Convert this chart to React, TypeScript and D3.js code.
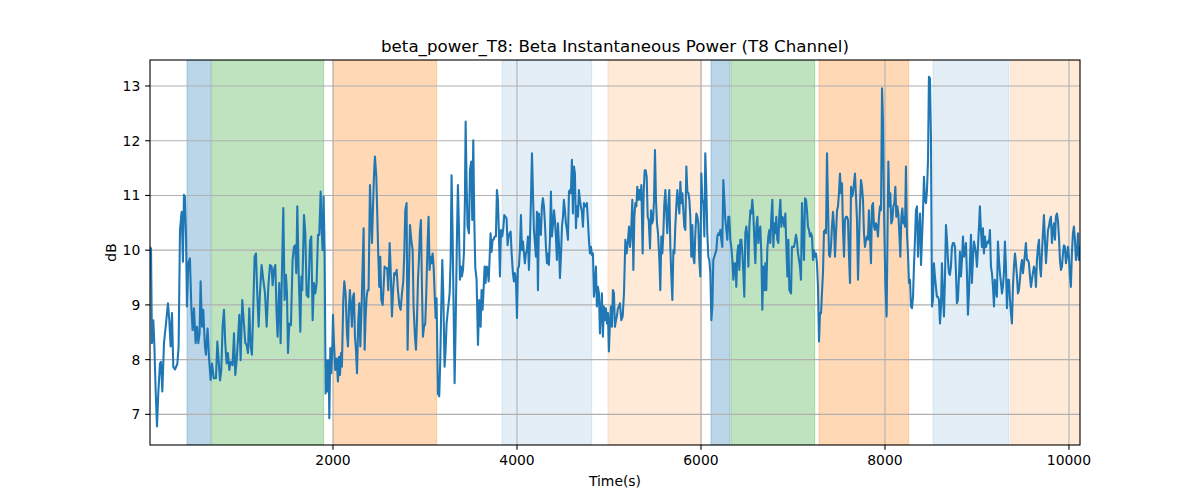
import React from 'react';
import * as d3 from 'd3';

// [time (s), beta power (dB)]
const powerSamples: [number, number][] = [
  [11,10.05],[22,10.03],[32,8.30],[47,8.72],[58,8.30],[72,7.45],[87,6.78],[101,7.38],[119,7.93],[130,7.96],
  [145,7.42],[163,8.30],[185,8.66],[206,9.03],[221,8.72],[235,8.24],[250,8.85],[264,7.87],[282,7.82],[308,7.92],
  [322,8.24],[337,10.37],[355,10.70],[369,9.79],[380,11.01],[391,10.98],[402,10.31],[413,8.97],[427,9.76],[445,9.85],
  [460,8.97],[474,8.54],[489,8.94],[507,8.30],[522,8.60],[536,8.30],[550,8.48],[561,9.43],[576,8.60],[590,8.91],
  [608,8.24],[619,8.09],[637,8.57],[652,8.05],[670,7.63],[685,7.93],[703,7.66],[728,7.66],[743,8.33],[757,7.99],
  [772,7.62],[786,7.81],[800,8.60],[815,8.91],[829,8.30],[844,7.93],[858,8.12],[873,7.81],[887,7.96],[909,7.90],
  [924,8.48],[938,7.72],[953,7.99],[967,8.36],[982,8.82],[996,7.99],[1014,9.09],[1032,8.66],[1047,8.30],[1061,8.27],
  [1076,8.12],[1090,8.94],[1105,8.24],[1119,8.09],[1134,8.97],[1148,9.88],[1163,9.94],[1177,9.21],[1192,8.60],[1206,9.21],
  [1224,9.73],[1242,9.46],[1261,9.21],[1279,8.60],[1297,9.33],[1315,9.73],[1333,9.70],[1344,9.36],[1358,9.64],[1373,9.73],
  [1387,8.85],[1398,8.42],[1416,9.40],[1431,8.30],[1445,9.58],[1460,10.77],[1474,9.09],[1489,9.55],[1500,9.21],[1511,8.12],
  [1525,8.66],[1543,8.63],[1561,9.82],[1576,10.06],[1590,10.09],[1601,9.58],[1612,10.80],[1627,9.58],[1645,8.51],[1656,9.52],
  [1666,9.27],[1685,10.64],[1699,10.31],[1714,9.18],[1732,9.14],[1750,10.16],
  [1764,10.25],[1779,8.72],[1793,9.40],[1808,9.21],[1822,9.40],[1837,10.28],[1851,10.28],[1866,11.07],[1876,10.43],[1887,10.00],
  [1898,10.98],[1909,10.00],[1920,7.38],[1931,7.99],[1942,7.42],[1953,7.99],[1960,6.93],[1971,8.21],[1982,7.75],[1992,8.18],
  [2000,8.82],[2011,8.30],[2025,7.81],[2040,8.02],[2054,7.60],[2065,8.05],[2076,7.72],[2087,8.12],[2097,7.87],[2112,9.09],
  [2123,9.43],[2137,9.21],[2152,8.48],[2163,8.24],[2174,8.97],[2184,9.27],[2195,8.97],[2206,8.60],[2217,9.15],[2228,9.21],
  [2239,8.42],[2250,8.18],[2261,7.75],[2275,8.72],[2286,9.03],[2297,8.24],[2311,8.97],[2322,9.70],[2333,10.40],[2344,8.18],
  [2355,8.79],[2366,9.15],[2376,9.27],[2387,9.27],[2402,11.19],[2413,10.61],[2424,10.13],[2434,10.73],[2445,11.34],[2456,11.71],
  [2471,11.34],[2482,10.61],[2492,9.94],[2503,9.33],[2514,9.88],[2525,9.09],[2540,9.00],[2550,9.33],[2561,9.70],[2576,9.67],
  [2590,9.67],[2601,9.27],[2616,10.13],[2626,9.70],[2641,8.79],[2652,9.21],[2666,9.58],[2681,9.55],[2692,9.64],[2706,9.27],
  [2721,9.00],[2735,8.91],[2750,9.21],[2764,9.43],[2775,9.94],[2786,10.73],[2800,10.86],[2811,8.18],[2822,9.21],[2837,10.46],
  [2851,10.19],[2866,10.00],[2876,8.97],[2891,8.42],[2902,8.18],[2913,8.72],[2924,9.46],[2934,9.82],[2945,10.34],[2956,10.55],
  [2967,9.33],[2978,8.42],[2989,8.60],[3003,8.66],[3014,9.21],[3029,10.16],[3039,10.61],[3050,9.64],[3061,9.88],[3072,9.76],
  [3083,9.94],[3094,9.70],[3105,9.21],[3116,8.76],[3126,9.12],[3141,7.38],[3155,7.33],[3166,7.99],[3177,8.97],[3188,9.82],
  [3199,9.21],[3213,7.87],[3224,8.18],[3235,8.66],[3246,8.85],[3257,9.03],[3268,9.21],[3279,9.82],[3289,11.37],[3300,10.31],
  [3315,8.48],[3322,7.57],[3333,8.60],[3347,10.19],[3358,11.19],[3369,10.43],[3380,9.46],[3391,9.70],[3402,9.52],[3413,9.64],
  [3424,9.97],[3434,10.92],[3442,12.35],[3453,11.16],[3463,10.43],[3478,10.31],
  [3489,11.46],[3503,11.62],[3514,10.55],[3525,12.01],[3536,10.55],[3547,9.67],[3561,9.46],[3576,8.27],[3590,9.09],[3605,8.60],
  [3615,9.27],[3626,8.91],[3637,9.27],[3648,9.70],[3659,9.40],[3670,9.70],[3681,9.67],[3692,9.43],[3702,9.82],[3713,10.31],
  [3724,9.97],[3735,10.19],[3746,10.19],[3757,10.25],[3771,10.25],[3782,11.10],[3793,10.92],[3804,10.28],[3815,9.52],[3826,10.37],
  [3840,10.25],[3851,10.40],[3862,10.64],[3876,10.61],[3887,10.58],[3898,10.09],[3909,10.25],[3920,10.31],[3931,10.34],[3942,9.94],
  [3956,9.58],[3967,9.43],[3978,9.58],[3989,9.46],[4000,8.76],[4010,9.67],[4021,9.70],[4032,10.00],[4043,10.64],[4054,10.00],
  [4065,10.16],[4076,9.94],[4086,9.76],[4097,9.94],[4108,10.00],[4119,10.25],[4130,9.64],[4141,10.19],[4152,10.92],[4163,11.77],
  [4173,11.10],[4184,10.37],[4195,10.13],[4206,9.88],[4217,10.70],[4228,9.27],[4239,10.67],[4250,10.37],[4260,10.28],[4271,10.80],
  [4282,10.95],[4293,10.80],[4304,10.49],[4315,10.06],[4326,9.76],[4336,9.94],[4347,9.73],[4358,10.19],[4369,11.07],[4380,10.25],
  [4391,10.46],[4402,10.73],[4413,10.55],[4423,10.25],[4434,9.82],[4445,10.49],[4456,10.13],[4467,9.49],[4478,9.88],[4489,10.43],
  [4500,10.61],[4510,10.92],[4521,10.73],[4532,10.49],[4543,10.37],[4554,10.19],[4565,11.07],[4576,11.10],[4586,11.04],[4597,11.65],
  [4608,10.67],[4619,11.53],[4630,11.40],[4641,10.40],[4652,10.80],[4663,10.61],[4673,11.10],[4684,10.92],[4695,10.80],[4706,10.70],
  [4717,10.43],[4728,10.86],[4739,10.80],[4749,10.80],[4760,10.86],[4771,10.55],[4782,10.19],[4793,9.94],[4804,10.06],[4815,9.91],
  [4826,9.94],[4836,9.15],[4847,9.33],[4858,9.70],[4869,8.97],[4880,9.33],[4891,9.21],[4902,8.48],[4913,8.91],[4923,9.21],
  [4934,8.42],[4945,8.97],[4956,8.72],[4967,8.94],[4978,8.66],[4989,8.85],[4999,8.15],[5010,8.66],[5021,8.97],[5032,8.60],
  [5043,9.27],[5054,9.21],[5065,8.60],[5076,8.72],[5086,8.79],[5097,8.94],[5108,8.97],[5119,9.03],
  [5134,8.72],[5149,8.79],[5163,9.21],[5178,10.19],[5192,9.94],[5207,10.19],[5218,10.43],[5229,10.06],[5240,10.31],[5254,10.92],
  [5265,9.64],[5276,10.61],[5287,10.86],[5298,10.80],[5308,11.16],[5319,10.92],[5330,11.10],[5341,10.92],[5352,11.19],[5366,9.94],
  [5377,11.04],[5388,11.46],[5399,11.46],[5410,11.34],[5421,10.61],[5432,10.55],[5446,10.03],[5457,10.73],[5468,10.49],[5479,10.55],
  [5490,10.92],[5500,11.83],[5511,10.92],[5522,10.49],[5533,10.31],[5548,9.82],[5558,9.27],[5569,10.25],[5580,9.94],[5591,10.31],
  [5602,10.86],[5613,11.10],[5624,10.67],[5634,10.31],[5645,10.80],[5656,11.10],[5667,10.06],[5678,9.52],[5689,9.09],[5700,10.00],
  [5711,9.94],[5721,10.43],[5732,10.80],[5743,11.10],[5754,10.86],[5765,10.67],[5776,11.25],[5787,10.86],[5798,11.04],[5808,10.73],
  [5819,10.43],[5830,10.37],[5841,11.53],[5852,11.07],[5863,11.04],[5874,10.92],[5884,10.61],[5895,9.88],[5906,10.46],[5917,9.88],
  [5928,9.76],[5939,10.31],[5950,10.67],[5961,10.61],[5971,10.49],[5982,9.82],[5993,9.52],[6004,11.40],[6015,10.92],[6026,10.86],
  [6037,10.25],[6047,11.77],[6058,11.16],[6069,10.31],[6080,9.88],[6091,9.82],[6102,9.58],[6113,8.72],[6124,8.97],[6134,9.82],
  [6145,9.88],[6156,9.94],[6167,10.00],[6178,10.25],[6189,10.31],[6200,10.28],[6211,10.37],[6221,10.19],[6232,10.06],[6243,11.28],
  [6254,10.92],[6265,10.55],[6276,10.37],[6287,10.19],[6297,10.61],[6308,10.61],[6319,10.19],[6330,10.06],[6341,9.82],[6352,9.46],
  [6363,9.76],[6374,9.76],[6384,9.33],[6395,9.94],[6406,10.09],[6417,9.64],[6428,10.19],[6439,10.19],[6450,9.94],[6461,9.58],
  [6471,9.15],[6482,10.31],[6493,10.43],[6504,10.25],[6515,9.70],[6526,10.43],[6537,10.73],[6547,10.67],[6558,10.92],[6569,10.67],
  [6580,10.19],[6591,9.76],[6602,10.43],[6613,10.61],[6624,10.13],[6634,10.31],[6645,10.43],[6656,9.94],[6667,8.91],[6678,9.70],
  [6689,9.27],[6700,9.76],[6710,9.27],[6721,10.00],[6732,10.25],[6743,10.37],[6754,10.13],[6765,10.61],[6776,10.92],[6787,10.06],
  [6797,10.49],[6808,10.31],[6819,10.61],[6830,10.19],[6841,10.13],[6852,10.67],[6863,10.92],[6874,10.43],[6884,10.61],[6895,10.58],
  [6906,10.43],[6917,10.67],[6928,10.06],[6939,9.52],[6950,10.19],[6961,9.27],
  [6979,9.21],[6989,10.06],[7000,10.06],[7011,10.06],[7022,10.16],[7033,10.28],[7044,10.16],[7055,9.94],[7066,9.82],[7076,9.70],
  [7087,9.46],[7098,10.86],[7109,10.31],[7120,9.82],[7131,10.95],[7142,10.92],[7152,10.73],[7163,10.43],[7174,10.37],[7185,10.25],
  [7196,10.31],[7207,10.25],[7218,9.82],[7229,10.00],[7239,9.88],[7250,9.94],[7261,9.76],[7272,9.33],[7283,8.33],[7294,8.85],
  [7305,8.85],[7315,9.21],[7326,9.58],[7337,10.34],[7348,10.37],[7359,10.31],[7370,11.77],[7381,10.80],[7392,9.91],[7402,9.88],
  [7413,10.06],[7424,10.43],[7435,10.70],[7446,10.43],[7457,9.88],[7468,10.31],[7479,10.73],[7489,10.80],[7500,11.04],[7511,11.40],
  [7522,11.04],[7533,11.22],[7544,10.37],[7555,9.88],[7565,10.55],[7576,10.61],[7587,10.61],[7598,10.55],[7609,9.88],[7620,9.40],
  [7631,11.16],[7642,10.98],[7652,11.04],[7663,11.22],[7674,11.40],[7685,10.98],[7696,10.55],[7707,9.46],[7718,10.19],[7728,10.80],
  [7739,11.28],[7750,11.16],[7761,10.92],[7772,10.31],[7783,10.06],[7794,10.19],[7805,10.25],[7815,10.19],[7826,10.73],[7837,10.25],
  [7848,9.76],[7859,10.80],[7870,10.86],[7881,10.43],[7892,10.37],[7902,10.49],[7913,10.43],[7924,10.25],[7935,10.61],[7946,10.80],
  [7957,10.73],[7968,12.96],[7978,12.38],[7989,10.80],[8004,9.40],[8018,8.79],[8029,10.49],[8037,11.62],[8047,10.80],[8058,11.04],
  [8069,10.49],[8080,10.55],[8091,10.80],[8102,10.86],[8113,11.16],[8123,10.61],[8134,10.80],[8145,10.67],[8156,10.31],[8167,9.88],
  [8178,10.61],[8189,10.76],[8200,10.49],[8210,10.61],[8218,10.43],[8228,11.53],[8239,10.31],[8250,9.94],[8261,9.40],[8272,9.46],
  [8283,8.97],[8294,8.94],[8305,9.15],[8315,9.70],[8326,10.19],[8337,10.73],[8348,10.80],[8359,9.88],[8370,10.37],[8381,10.67],
  [8392,9.73],[8402,10.19],[8413,10.67],[8424,11.34],[8435,10.92],[8446,10.86],[8457,11.10],[8468,11.65],[8478,13.17],[8489,13.14],
  [8500,12.07],[8511,8.97],
  [8522,9.09],[8532,9.76],[8543,9.52],[8554,9.33],[8565,9.15],[8576,9.15],[8587,9.09],[8598,8.66],[8609,8.97],[8619,9.76],
  [8630,9.21],[8641,8.79],[8652,9.46],[8663,10.46],[8674,10.19],[8685,9.82],[8696,9.58],[8706,9.55],[8717,9.70],[8728,10.06],
  [8739,10.13],[8750,10.13],[8761,10.06],[8772,9.58],[8782,9.03],[8793,9.09],[8804,9.52],[8815,9.97],[8826,9.52],[8837,9.82],
  [8848,10.25],[8859,9.88],[8869,9.94],[8880,10.13],[8891,9.58],[8902,8.82],[8913,9.21],[8924,9.82],[8935,10.28],[8945,9.40],
  [8956,9.82],[8967,10.16],[8978,10.06],[8989,9.94],[9000,9.70],[9011,10.06],[9022,10.43],[9032,10.80],[9043,10.37],[9054,10.06],
  [9065,10.40],[9076,9.94],[9087,10.25],[9098,10.06],[9109,10.13],[9119,10.16],[9130,10.13],[9141,10.37],[9152,9.70],[9163,9.58],
  [9174,9.33],[9185,8.97],[9195,9.46],[9206,9.27],[9217,9.15],[9228,10.16],[9239,9.82],[9250,9.58],[9261,9.40],[9272,9.21],
  [9282,9.33],[9293,9.58],[9304,10.16],[9315,9.70],[9326,8.94],[9337,9.46],[9348,9.46],[9359,9.09],[9369,8.85],[9380,8.66],
  [9391,9.33],[9402,9.70],[9413,9.94],[9424,9.76],[9435,9.52],[9445,9.21],[9456,9.27],[9467,9.46],[9478,9.70],[9489,9.82],
  [9500,9.58],[9511,9.76],[9522,9.94],[9532,10.13],[9543,9.82],[9554,9.82],[9565,9.76],[9576,9.52],[9587,9.33],[9598,9.46],
  [9608,9.58],[9619,9.70],[9630,9.64],[9641,9.33],[9652,9.82],[9663,10.06],[9674,10.19],[9685,9.70],[9695,9.52],[9706,9.94],
  [9717,10.31],[9728,10.64],[9739,10.19],[9750,9.76],[9761,10.06],[9772,10.37],[9782,10.43],[9793,10.55],[9804,10.61],[9815,10.13],
  [9826,10.37],[9837,10.49],[9848,10.19],[9858,10.61],[9869,10.67],[9880,10.55],[9891,10.25],[9902,9.82],[9913,9.64],[9924,9.70],
  [9935,9.94],[9945,10.09],[9956,10.06],[9967,9.76],[9978,9.88],[9989,10.06],[10000,9.88],[10011,9.52],[10021,9.33],[10032,9.94],
  [10043,10.31],[10054,10.43],[10065,10.19],[10076,9.82],[10087,9.94],[10098,10.31],[10109,9.82],[10120,10.06],
];

// shaded phases: [start, end, phase]
const phaseSpans: [number, number, string][] = [
  [413, 671, 'A'], [681, 1899, 'B'], [2004, 3127, 'C'], [3837, 4812, 'D'], [4989, 6008, 'E'],
  [6109, 6315, 'A'], [6326, 7236, 'B'], [7283, 8258, 'C'], [8522, 9348, 'D'], [9366, 10120, 'E'],
];

const xTicks = [2000, 4000, 6000, 8000, 10000];
const yTicks = [7, 8, 9, 10, 11, 12, 13];
const xDomain: [number, number] = [11, 10120];
const yDomain: [number, number] = [6.44, 13.475];

const titleText = 'beta_power_T8: Beta Instantaneous Power (T8 Channel)';
const xLabel = 'Time(s)';
const yLabel = 'dB';

const phaseStyle: Record<string, { color: string; alpha: number }> = {
  A: { color: '#1f77b4', alpha: 0.3 },
  B: { color: '#2ca02c', alpha: 0.3 },
  C: { color: '#ff7f0e', alpha: 0.3 },
  D: { color: '#1f77b4', alpha: 0.12 },
  E: { color: '#ff7f0e', alpha: 0.16 },
};

const W = 1200;
const H = 500;
const M = { left: 150, right: 1080, top: 60, bottom: 445 };
const FONT = '"DejaVu Sans", sans-serif';

export default function App() {
  const x = d3.scaleLinear().domain(xDomain).range([M.left, M.right]);
  const y = d3.scaleLinear().domain(yDomain).range([M.bottom, M.top]);
  const line = d3
    .line<[number, number]>()
    .x((d) => x(d[0]))
    .y((d) => y(d[1]));
  const tickLen = 4.86;
  const tickFont = 13.9;

  return (
    <div style={{ position: 'absolute', left: 0, top: 0 }}>
      <svg width={W} height={H} style={{ display: 'block', background: '#fff' }}>
        <defs>
          <clipPath id="plotclip">
            <rect x={M.left} y={M.top} width={M.right - M.left} height={M.bottom - M.top} />
          </clipPath>
        </defs>
        <rect x={0} y={0} width={W} height={H} fill="#fff" />
        <g clipPath="url(#plotclip)">
          {phaseSpans.map(([s, e, p], i) => {
            const st = phaseStyle[p];
            return (
              <rect
                key={i}
                x={x(s)}
                y={M.top}
                width={x(e) - x(s)}
                height={M.bottom - M.top}
                fill={st.color}
                fillOpacity={st.alpha}
                stroke={st.color}
                strokeOpacity={st.alpha}
                strokeWidth={1}
              />
            );
          })}
          {yTicks.map((t) => (
            <line key={'gy' + t} x1={M.left} x2={M.right} y1={y(t)} y2={y(t)} stroke="#b0b0b0" strokeWidth={1.1} />
          ))}
          {xTicks.map((t) => (
            <line key={'gx' + t} x1={x(t)} x2={x(t)} y1={M.top} y2={M.bottom} stroke="#b0b0b0" strokeWidth={1.1} />
          ))}
          <path d={line(powerSamples) || ''} fill="none" stroke="#1f77b4" strokeWidth={2.08} strokeLinejoin="round" strokeLinecap="square" />
        </g>
        <rect
          x={M.left}
          y={M.top}
          width={M.right - M.left}
          height={M.bottom - M.top}
          fill="none"
          stroke="#000"
          strokeWidth={1.1}
        />
        {xTicks.map((t) => (
          <g key={'xt' + t}>
            <line x1={x(t)} x2={x(t)} y1={M.bottom} y2={M.bottom + tickLen} stroke="#000" strokeWidth={1.1} />
            <text
              x={x(t)}
              y={M.bottom + tickLen + 4.86}
              dy="0.76em"
              textAnchor="middle"
              fontFamily={FONT}
              fontSize={tickFont}
              fill="#000"
            >
              {t}
            </text>
          </g>
        ))}
        {yTicks.map((t) => (
          <g key={'yt' + t}>
            <line x1={M.left - tickLen} x2={M.left} y1={y(t)} y2={y(t)} stroke="#000" strokeWidth={1.1} />
            <text
              x={M.left - tickLen - 4.86}
              y={y(t)}
              dy="0.36em"
              textAnchor="end"
              fontFamily={FONT}
              fontSize={tickFont}
              fill="#000"
            >
              {t}
            </text>
          </g>
        ))}
        <text x={(M.left + M.right) / 2} y={52} textAnchor="middle" fontFamily={FONT} fontSize={16.67} fill="#000">
          {titleText}
        </text>
        <text x={(M.left + M.right) / 2} y={486} textAnchor="middle" fontFamily={FONT} fontSize={tickFont} fill="#000">
          {xLabel}
        </text>
        <text
          transform={`translate(116,${(M.top + M.bottom) / 2}) rotate(-90)`}
          textAnchor="middle"
          fontFamily={FONT}
          fontSize={tickFont}
          fill="#000"
        >
          {yLabel}
        </text>
      </svg>
    </div>
  );
}
